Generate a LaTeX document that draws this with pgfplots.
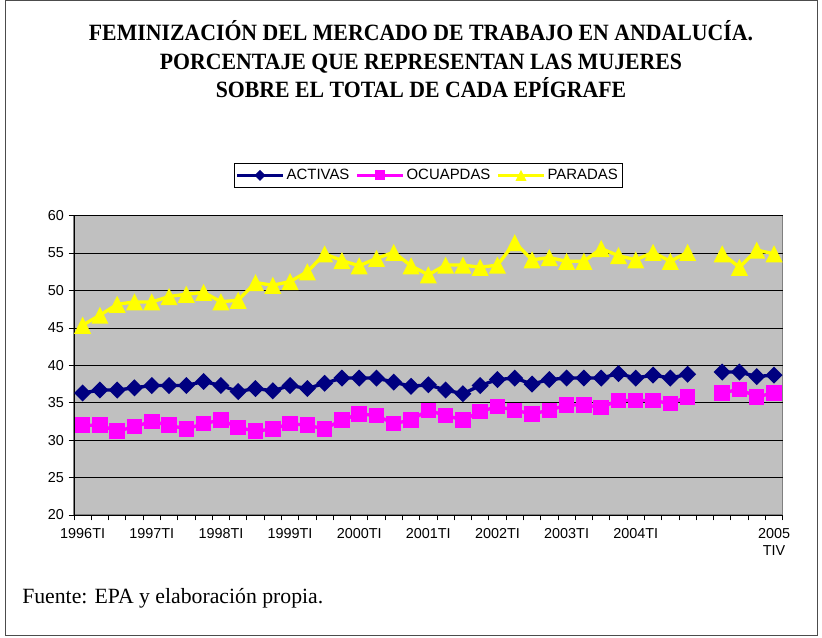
\documentclass[border=0pt]{standalone}
\usepackage{pgfplots}
\usepackage{pgfplotstable}
\pgfplotsset{compat=1.18}
\usepackage{fontspec}
\setmainfont{Liberation Serif}
\newfontfamily\arial{Liberation Sans}
\definecolor{navyc}{HTML}{000080}
\definecolor{magc}{HTML}{FF00FF}
\definecolor{yelc}{HTML}{FFFF00}
\definecolor{bgc}{HTML}{C0C0C0}

\pgfdeclareplotmark{xdiamond}{%
 \pgfpathmoveto{\pgfqpoint{0pt}{\pgfplotmarksize}}%
 \pgfpathlineto{\pgfqpoint{\pgfplotmarksize}{0pt}}%
 \pgfpathlineto{\pgfqpoint{0pt}{-\pgfplotmarksize}}%
 \pgfpathlineto{\pgfqpoint{-\pgfplotmarksize}{0pt}}%
 \pgfpathclose\pgfusepathqfill}
\pgfdeclareplotmark{xtri}{%
 \pgfpathmoveto{\pgfqpoint{0pt}{\pgfplotmarksize}}%
 \pgfpathlineto{\pgfqpoint{\pgfplotmarksize}{-\pgfplotmarksize}}%
 \pgfpathlineto{\pgfqpoint{-\pgfplotmarksize}{-\pgfplotmarksize}}%
 \pgfpathclose\pgfusepathqfill}
\pgfdeclareplotmark{xsq}{%
 \pgfpathrectangle{\pgfqpoint{-\pgfplotmarksize}{-\pgfplotmarksize}}{\pgfqpoint{2\pgfplotmarksize}{2\pgfplotmarksize}}%
 \pgfusepathqfill}

\pgfplotstableread{
i act ocu par
0 36.3 32.0 45.36
1 36.7 32.0 46.7
2 36.7 31.2 48.16
3 37.0 31.8 48.47
4 37.3 32.5 48.47
5 37.3 32.0 49.2
6 37.3 31.5 49.5
7 37.85 32.2 49.75
8 37.3 32.7 48.5
9 36.5 31.7 48.7
10 36.9 31.2 51.06
11 36.6 31.5 50.7
12 37.3 32.2 51.2
13 36.9 32.0 52.5
14 37.6 31.5 54.9
15 38.3 32.7 54.0
16 38.3 33.5 53.3
17 38.3 33.3 54.3
18 37.75 32.2 55.1
19 37.2 32.7 53.3
20 37.4 34.0 52.1
21 36.7 33.3 53.4
22 36.2 32.7 53.4
23 37.3 33.8 53.1
24 38.1 34.5 53.4
25 38.3 34.0 56.4
26 37.5 33.5 54.1
27 38.1 34.0 54.4
28 38.3 34.7 53.9
29 38.3 34.7 53.9
30 38.3 34.4 55.6
31 38.9 35.3 54.65
32 38.3 35.3 54.1
33 38.7 35.3 55.1
34 38.3 34.9 53.9
35 38.8 35.8 55.1
36 nan nan nan
37 39.1 36.3 54.9
38 39.1 36.8 53.1
39 38.5 35.8 55.4
40 38.7 36.3 54.9
}\datatab

\newcommand{\ttl}[1]{\scalebox{0.934}[1]{\fontsize{17.5}{20}\selectfont\bfseries #1}}

\begin{document}
\begin{tikzpicture}
\draw[gray!60!black, line width=0.75pt] (3.75pt,1.5pt) rectangle (612.75pt,477pt);
\node[anchor=base, inner sep=0pt] at (315.75pt,447pt) {\ttl{FEMINIZACIÓN DEL MERCADO DE TRABAJO EN ANDALUCÍA.}};
\node[anchor=base, inner sep=0pt] at (315.75pt,425.6pt) {\ttl{PORCENTAJE QUE REPRESENTAN LAS MUJERES}};
\node[anchor=base, inner sep=0pt] at (315.75pt,404.25pt) {\ttl{SOBRE EL TOTAL DE CADA EPÍGRAFE}};
\node[anchor=base west, inner sep=0pt, font=\fontsize{16.3}{19}\selectfont] at (16.5pt,25.5pt) {Fuente: EPA y elaboración propia.};
\begin{axis}[
  at={(55.5pt,91.5pt)}, anchor=south west,
  scale only axis, width=531.5pt, height=224.5pt,
  xmin=-0.5, xmax=40.5, ymin=20, ymax=60,
  clip=false,
  unbounded coords=jump,
  axis background/.style={fill=bgc, draw=gray, line width=1pt},
  axis x line*=bottom, axis y line*=left,
  axis line style={-, black, line width=0.75pt},
  xtick={0,4,...,40},
  xticklabels={1996TI,1997TI,1998TI,1999TI,2000TI,2001TI,2002TI,2003TI,2004TI,,{2005\\TIV}},
  minor xtick={-0.5,0.5,...,40.5},
  ytick={20,25,...,60},
  ymajorgrids,
  major grid style={black, line width=0.6pt},
  tick align=outside,
  major x tick style={draw=none},
  minor x tick style={black, line width=0.6pt},
  major y tick style={black, line width=0.6pt},
  major tick length=4pt, minor tick length=4pt,
  /pgf/number format/assume math mode=true,
  ticklabel style={font=\arial\fontsize{10.8}{12.5}\selectfont},
  xticklabel style={align=center, yshift=-2.5pt},
  legend columns=3,
  legend style={at={(0.5,1.0925)}, anchor=south, draw=black, line width=0.6pt,
    font=\arial\fontsize{11.2}{13}\selectfont, inner xsep=1.5pt, inner ysep=2.5pt,
    /tikz/every even column/.append style={column sep=3pt}},
  legend image code/.code={\draw[mark repeat=2,mark phase=2,#1,line width=1.9pt, mark options={solid,scale=0.65}] plot coordinates {(0pt,0pt) (17pt,0pt) (34pt,0pt)};},
]
\addplot[navyc, line width=2.5pt, mark=xdiamond, mark size=6.4pt] table[x=i,y=act]{\datatab};
\addlegendentry{ACTIVAS}
\addplot[magc, line width=2.5pt, mark=xsq, mark size=5.8pt] table[x=i,y=ocu]{\datatab};
\addlegendentry{OCUAPDAS}
\addplot[yelc, line width=2.5pt, mark=xtri, mark size=6.4pt] table[x=i,y=par]{\datatab};
\addlegendentry{PARADAS}
\end{axis}
\pgfresetboundingbox
\useasboundingbox (0,0) rectangle (616.5pt,477.75pt);
\end{tikzpicture}
\end{document}
